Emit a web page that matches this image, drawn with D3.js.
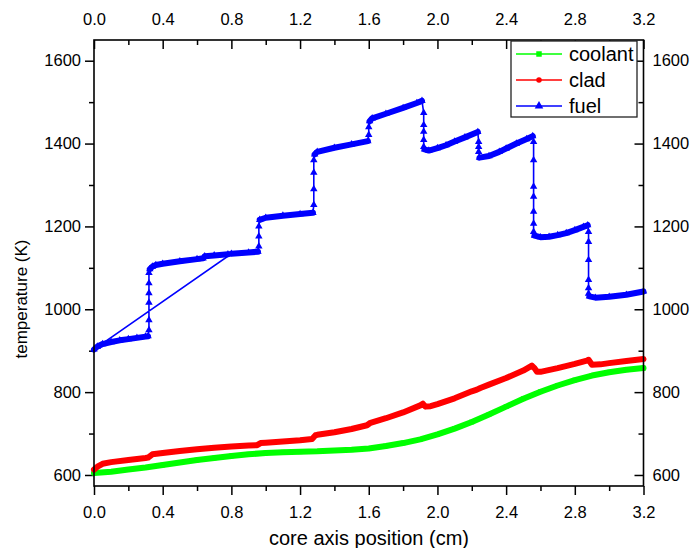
<!DOCTYPE html>
<html>
<head>
<meta charset="utf-8">
<script src="https://cdn.jsdelivr.net/npm/d3@7"></script>
<style>
  body { margin: 0; background: #fff; }
  svg { font-family: "Liberation Sans", Arial, sans-serif; }
  .axis path.domain { display: none; }
  .axis line { stroke: #000; stroke-width: 1.5; }
  .axis text { font-size: 16.5px; fill: #000; }
</style>
</head>
<body>
<svg id="chart" width="693" height="548"></svg>
<script>
// x ticks (cm) and y ticks (K)
var xMajor = [0, 0.4, 0.8, 1.2, 1.6, 2.0, 2.4, 2.8, 3.2];
var xMinor = [0.2, 0.6, 1.0, 1.4, 1.8, 2.2, 2.6, 3.0];
var yMajor = [600, 800, 1000, 1200, 1400, 1600];
var yMinor = [700, 900, 1100, 1300, 1500];

// [position, temperature] in the order the points were written out
var coolant = [
  [0, 605], [0.1, 608], [0.2, 613], [0.3, 618], [0.4, 624], [0.5, 630], [0.6, 636],
  [0.7, 641], [0.8, 646], [0.9, 650], [1.0, 653], [1.1, 655], [1.2, 656], [1.3, 657],
  [1.4, 659], [1.5, 661], [1.6, 664], [1.7, 670], [1.8, 677], [1.9, 686], [2.0, 698],
  [2.1, 712], [2.2, 728], [2.3, 746], [2.4, 765], [2.5, 784], [2.6, 801], [2.7, 816],
  [2.8, 829], [2.9, 840], [3.0, 848], [3.1, 854], [3.2, 858]
];

var clad = [
  [0, 613], [0.02, 620], [0.05, 627], [0.1, 631], [0.2, 636], [0.3, 641], [0.315, 642],
  [0.34, 650], [0.4, 653], [0.5, 658], [0.6, 662], [0.7, 666], [0.8, 669], [0.9, 671],
  [0.95, 672], [0.97, 677], [1.0, 678], [1.1, 681], [1.2, 684], [1.27, 687], [1.29, 696],
  [1.3, 697], [1.4, 703], [1.5, 711], [1.59, 720], [1.61, 726], [1.7, 737], [1.8, 751],
  [1.9, 768], [1.915, 772], [1.93, 765], [1.96, 766], [2.0, 771], [2.1, 785], [2.2, 802],
  [2.23, 806], [2.25, 810], [2.3, 818], [2.4, 834], [2.5, 852], [2.55, 864], [2.565, 858],
  [2.58, 849], [2.6, 849], [2.7, 858], [2.8, 868], [2.87, 876], [2.88, 878], [2.9, 866],
  [2.95, 867], [3.0, 870], [3.1, 875], [3.2, 880]
];

// first block runs backwards from 0.78 to 0, then the file jumps to 0.8
var fuel = [
  [0.78, 1133], [0.7, 1130], [0.645, 1128], [0.635, 1123], [0.6, 1121], [0.5, 1116],
  [0.4, 1110], [0.36, 1107], [0.34, 1103], [0.325, 1097], [0.32, 1088], [0.32, 1063],
  [0.32, 1039], [0.32, 1016], [0.32, 974], [0.32, 950], [0.315, 935], [0.3, 934],
  [0.25, 931], [0.2, 928], [0.15, 925], [0.1, 921], [0.05, 916], [0.02, 910], [0, 903],
  [0.8, 1134], [0.9, 1137], [0.955, 1139], [0.96, 1152], [0.96, 1176], [0.96, 1200],
  [0.965, 1216], [1.0, 1221], [1.1, 1226], [1.2, 1230], [1.275, 1233], [1.28, 1252],
  [1.28, 1290], [1.28, 1330], [1.28, 1360], [1.285, 1374], [1.3, 1380], [1.4, 1390],
  [1.5, 1398], [1.595, 1406], [1.6, 1421], [1.6, 1440], [1.605, 1454], [1.62, 1461],
  [1.7, 1472], [1.8, 1486], [1.88, 1498], [1.91, 1503], [1.92, 1474], [1.92, 1445],
  [1.92, 1429], [1.92, 1409], [1.92, 1392], [1.925, 1386], [1.95, 1383], [2.0, 1389],
  [2.05, 1396], [2.1, 1405], [2.16, 1415], [2.235, 1428], [2.24, 1404], [2.24, 1392],
  [2.24, 1380], [2.245, 1366], [2.3, 1370], [2.36, 1380], [2.4, 1388], [2.46, 1400],
  [2.52, 1411], [2.555, 1418], [2.56, 1404], [2.56, 1360], [2.56, 1296], [2.56, 1272],
  [2.56, 1236], [2.56, 1207], [2.56, 1187], [2.565, 1178], [2.6, 1174], [2.65, 1175],
  [2.7, 1179], [2.75, 1184], [2.8, 1191], [2.85, 1199], [2.875, 1203], [2.88, 1187],
  [2.88, 1163], [2.88, 1119], [2.88, 1071], [2.88, 1051], [2.88, 1038], [2.885, 1031],
  [2.92, 1028], [3.0, 1030], [3.1, 1035], [3.2, 1043]
];

var series = [
  {name: "coolant", data: coolant, color: "#00ff00", symbol: d3.symbolSquare, size: 22},
  {name: "clad", data: clad, color: "#ff0000", symbol: d3.symbolCircle, size: 16},
  {name: "fuel", data: fuel, color: "#0000ff", symbol: d3.symbolTriangle, size: 24}
];

var plotL = 94, plotR = 643.5, plotT = 40, plotB = 486;
var svg = d3.select("#chart");

var x = d3.scaleLinear().domain([0, 3.2]).range([plotL, plotR]);
var y = d3.scaleLinear().domain([573.4, 1650]).range([plotB, plotT]);

var fmtX = d3.format(".1f");

function addAxis(axis, tx, ty) {
  return svg.append("g")
    .attr("class", "axis")
    .attr("transform", "translate(" + tx + "," + ty + ")")
    .call(axis);
}

// left / bottom ticks point out, top / right point in
addAxis(d3.axisLeft(y).tickValues(yMajor).tickSize(9).tickPadding(4).tickFormat(d3.format("d")), plotL, 0);
addAxis(d3.axisLeft(y).tickValues(yMinor).tickSize(5).tickFormat(""), plotL, 0);
addAxis(d3.axisRight(y).tickValues(yMajor).tickSizeInner(-9).tickSizeOuter(0).tickPadding(9).tickFormat(d3.format("d")), plotR, 0);
addAxis(d3.axisRight(y).tickValues(yMinor).tickSizeInner(-5).tickSizeOuter(0).tickFormat(""), plotR, 0);
addAxis(d3.axisBottom(x).tickValues(xMajor).tickSize(9).tickPadding(11).tickFormat(fmtX), 0, plotB);
addAxis(d3.axisBottom(x).tickValues(xMinor).tickSize(5).tickFormat(""), 0, plotB);
addAxis(d3.axisTop(x).tickValues(xMajor).tickSizeInner(-9).tickSizeOuter(0).tickPadding(15).tickFormat(fmtX), 0, plotT);
addAxis(d3.axisTop(x).tickValues(xMinor).tickSizeInner(-5).tickSizeOuter(0).tickFormat(""), 0, plotT);

var plot = svg.append("g");

var line = d3.line()
  .x(function(d) { return x(d[0]); })
  .y(function(d) { return y(d[1]); });

// split into runs where points sit close together, so the marker band looks solid
function runs(data) {
  var out = [], cur = [data[0]];
  for (var i = 1; i < data.length; i++) {
    var dx = Math.abs(data[i][0] - data[i - 1][0]);
    var dy = Math.abs(data[i][1] - data[i - 1][1]);
    if (dx > 0 && dx < 0.2 && dy / dx < 800) {
      cur.push(data[i]);
    } else {
      out.push(cur);
      cur = [data[i]];
    }
  }
  out.push(cur);
  return out.filter(function(r) { return r.length > 1; });
}

series.forEach(function(s) {
  var g = plot.append("g");
  g.append("path")
    .datum(s.data)
    .attr("d", line)
    .attr("fill", "none")
    .attr("stroke", s.color)
    .attr("stroke-width", 1.6);
  g.selectAll("path.band")
    .data(runs(s.data))
    .enter().append("path")
      .attr("class", "band")
      .attr("d", line)
      .attr("fill", "none")
      .attr("stroke", s.color)
      .attr("stroke-width", 6)
      .attr("stroke-linejoin", "round")
      .attr("stroke-linecap", "round");
  g.selectAll("path.mark")
    .data(s.data)
    .enter().append("path")
      .attr("class", "mark")
      .attr("transform", function(d) { return "translate(" + x(d[0]) + "," + y(d[1]) + ")"; })
      .attr("d", d3.symbol().type(s.symbol).size(s.size))
      .attr("fill", s.color);
});

// frame
svg.append("rect")
  .attr("x", plotL).attr("y", plotT)
  .attr("width", plotR - plotL).attr("height", plotB - plotT)
  .attr("fill", "none")
  .attr("stroke", "#000")
  .attr("stroke-width", 1.6);

// legend
var legend = svg.append("g");
legend.append("rect")
  .attr("x", 511).attr("y", 41)
  .attr("width", 126).attr("height", 76)
  .attr("fill", "#fff")
  .attr("stroke", "#222")
  .attr("stroke-width", 1.3);

series.forEach(function(s, i) {
  var ly = 54 + i * 26;
  legend.append("line")
    .attr("x1", 516).attr("x2", 562)
    .attr("y1", ly).attr("y2", ly)
    .attr("stroke", s.color)
    .attr("stroke-width", 1.6);
  legend.append("path")
    .attr("transform", "translate(539," + ly + ")")
    .attr("d", d3.symbol().type(s.symbol).size(s.size + 8))
    .attr("fill", s.color);
  legend.append("text")
    .attr("x", 569).attr("y", ly)
    .attr("dy", "0.35em")
    .attr("font-size", 20)
    .text(s.name);
});

// axis titles
svg.append("text")
  .attr("transform", "translate(27,299) rotate(-90)")
  .attr("text-anchor", "middle")
  .attr("font-size", 17)
  .text("temperature (K)");

svg.append("text")
  .attr("x", 369).attr("y", 545)
  .attr("text-anchor", "middle")
  .attr("font-size", 20)
  .text("core axis position (cm)");
</script>
</body>
</html>
